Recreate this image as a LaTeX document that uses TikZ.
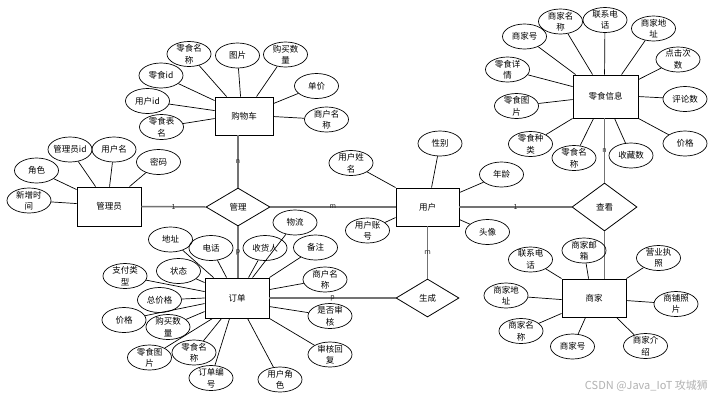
\documentclass[tikz,border=0pt]{standalone}
\usepackage{fontspec}
\setmainfont{Noto Sans CJK SC}
\usetikzlibrary{shapes.geometric}
\newcommand{\attr}[4]{%
  \node[attr,label={[atxt,name=#1t]center:{#3}}] (#1) at (#2) {};
  \draw[aline] (#1) -- (#4);}
\begin{document}
\begin{tikzpicture}[x=1pt,y=-1pt,
  every node/.style={font=\fontsize{8.5}{11.5}\selectfont},
  ent/.style={draw, line width=0.9pt, minimum width=64pt, minimum height=39pt, inner sep=0pt},
  rel/.style={draw, diamond, line width=0.8pt, inner sep=0pt, minimum width=64pt, minimum height=38pt},
  attr/.style={draw, ellipse, line width=0.7pt, minimum width=44pt, minimum height=25pt, inner sep=0pt},
  atxt/.style={align=center, inner sep=0pt},
  aline/.style={line width=0.7pt},
  rline/.style={draw=black!55, line width=1.5pt},
  card/.style={font=\fontsize{7}{7}\selectfont, inner sep=0pt, text=black!85}]
\fill[white] (0,0) rectangle (712,397);
\useasboundingbox (0,0) rectangle (712,397);

% entities
\node[ent, minimum width=58pt, minimum height=38pt] (gwc) at (244,116) {购物车};
\node[ent] (gly) at (109,206.5) {管理员};
\node[ent, minimum width=63pt, minimum height=38pt] (yh) at (427.5,207) {用户};
\node[ent, minimum height=40pt] (dd) at (237,298) {订单};
\node[ent, minimum width=65pt, minimum height=43pt] (lsxx) at (605.5,96.5) {零食信息};
\node[ent, minimum height=38pt] (sj) at (594,298) {商家};
% relationships
\node[rel] (gl) at (238,207) {管理};
\node[rel, minimum width=63pt] (sc) at (427.5,298) {生成};
\node[rel, minimum width=65pt, minimum height=48pt] (ck) at (604.5,207) {查看};

% relationship connectors
\draw[rline] (gl.north) -- node[card] (c1) {n} (gl.north |- gwc.south);
\draw[rline] (gl.south) -- node[card] (c2) {p} (gl.south |- dd.north);
\draw[rline] (gly.east) -- node[card] (c3) {1} (gl.west);
\draw[rline] (gl.east) -- node[card] (c4) {m} (yh.west);
\draw[rline] (yh.east) -- node[card] (c5) {1} (ck.west);
\draw[rline] (ck.north) -- node[card] (c6) {n} (ck.north |- lsxx.south);
\draw[rline] (ck.south) -- (ck.south |- sj.north);
\draw[rline] (yh.south) -- node[card] (c7) {m} (sc.north);
\draw[rline] (dd.east) -- node[card] (c8) {p} (sc.west);

% 购物车 attributes
\attr{g1}{189,54}{零食名\\称}{[xshift=12pt]gwc.north west}
\attr{g2}{237.5,55.5}{图片}{[xshift=26pt]gwc.north west}
\attr{g3}{285.5,54.5}{购买数\\量}{[xshift=42pt]gwc.north west}
\attr{g4}{316.5,86}{单价}{[yshift=-7pt]gwc.north east}
\attr{g5}{326.5,119.5}{商户名\\称}{[yshift=-20pt]gwc.north east}
\attr{g6}{161,75.5}{零食id}{[yshift=-4pt]gwc.north west}
\attr{g7}{147.5,101}{用户id}{[yshift=-14pt]gwc.north west}
\attr{g8}{161.5,127}{零食表\\名}{[yshift=-22pt]gwc.north west}

% 管理员 attributes
\attr{m1}{70,149.5}{管理员id}{[xshift=19pt]gly.north west}
\attr{m2}{114,149.5}{用户名}{[xshift=33pt]gly.north west}
\attr{m3}{158.5,162}{密码}{[xshift=53pt]gly.north west}
\attr{m4}{36.5,170.5}{角色}{[yshift=-3pt]gly.north west}
\attr{m5}{29,200.5}{新增时\\间}{[yshift=-17pt]gly.north west}

% 用户 attributes
\attr{u1}{351,163}{用户姓\\名}{yh.north west}
\attr{u2}{440,143.5}{性别}{[xshift=36pt]yh.north west}
\attr{u3}{501.5,174.5}{年龄}{[yshift=-5pt]yh.north east}
\attr{u4}{367.5,230.5}{用户账\\号}{[yshift=-30pt]yh.north west}
\attr{u5}{487.5,232}{头像}{[yshift=-32pt]yh.north east}

% 订单 attributes
\attr{d1}{170.5,239.5}{地址}{[xshift=9pt]dd.north west}
\attr{d2}{211,248}{电话}{[xshift=22pt]dd.north west}
\attr{d3}{265,248}{收货人}{[xshift=44pt]dd.north west}
\attr{d4}{295,222.5}{物流}{[xshift=48pt]dd.north west}
\attr{d5}{315.5,247.5}{备注}{dd.north east}
\attr{d6}{325,279.5}{商户名\\称}{[yshift=-12pt]dd.north east}
\attr{d7}{330,316}{是否审\\核}{[yshift=-29pt]dd.north east}
\attr{d8}{330,354.5}{审核回\\复}{dd.south east}
\attr{d9}{280,379.5}{用户角\\色}{[xshift=43pt]dd.south west}
\attr{d10}{211,378}{订单编\\号}{[xshift=25pt]dd.south west}
\attr{d11}{194,352.5}{零食名\\称}{[xshift=17pt]dd.south west}
\attr{d12}{149.5,357.5}{零食图\\片}{[xshift=8pt]dd.south west}
\attr{d13}{168,327}{购买数\\量}{[yshift=-34pt]dd.north west}
\attr{d14}{124,320}{价格}{[yshift=-26pt]dd.north west}
\attr{d15}{159.5,300}{总价格}{dd.west}
\attr{d16}{125,276}{支付类\\型}{[yshift=-14pt]dd.north west}
\attr{d17}{178.5,271}{状态}{[yshift=-5pt]dd.north west}

% 零食信息 attributes
\attr{s1}{524.5,36.5}{商家号}{[xshift=3pt]lsxx.north west}
\attr{s2}{560.5,21.5}{商家名\\称}{[xshift=20pt]lsxx.north west}
\attr{s3}{605,20}{联系电\\话}{[xshift=32pt]lsxx.north west}
\attr{s4}{653.5,28.5}{商家地\\址}{[xshift=49pt]lsxx.north west}
\attr{s5}{678,59.5}{点击次\\数}{[yshift=-5pt]lsxx.north east}
\attr{s6}{685,99}{评论数}{[yshift=-22pt]lsxx.north east}
\attr{s7}{685,143.5}{价格}{lsxx.south east}
\attr{s8}{631,155.5}{收藏数}{[xshift=42pt]lsxx.south west}
\attr{s9}{574,158}{零食名\\称}{[xshift=21pt]lsxx.south west}
\attr{s10}{530.5,144}{零食种\\类}{lsxx.south west}
\attr{s11}{516.5,106}{零食图\\片}{[yshift=-25pt]lsxx.north west}
\attr{s12}{507.5,69.5}{零食详\\情}{[yshift=-12pt]lsxx.north west}

% 商家 attributes
\attr{b1}{530.5,259.5}{联系电\\话}{sj.north west}
\attr{b2}{584,250.5}{商家邮\\箱}{[xshift=27pt]sj.north west}
\attr{b3}{658.5,258}{营业执\\照}{sj.north east}
\attr{b4}{676,304}{商铺照\\片}{[yshift=-22pt]sj.north east}
\attr{b5}{645.5,346}{商家介\\绍}{[xshift=55pt]sj.south west}
\attr{b6}{572.5,346.5}{商家号}{[xshift=24pt]sj.south west}
\attr{b7}{521,331}{商家名\\称}{[yshift=4pt]sj.south west}
\attr{b8}{506,295.5}{商家地\\址}{[yshift=-21pt]sj.north west}

% watermark
\node[font=\fontsize{11}{11}\selectfont, text=black!30, inner sep=0pt, anchor=east] (wm) at (708,386) {CSDN @Java\_IoT 攻城狮};
\end{tikzpicture}
\end{document}
